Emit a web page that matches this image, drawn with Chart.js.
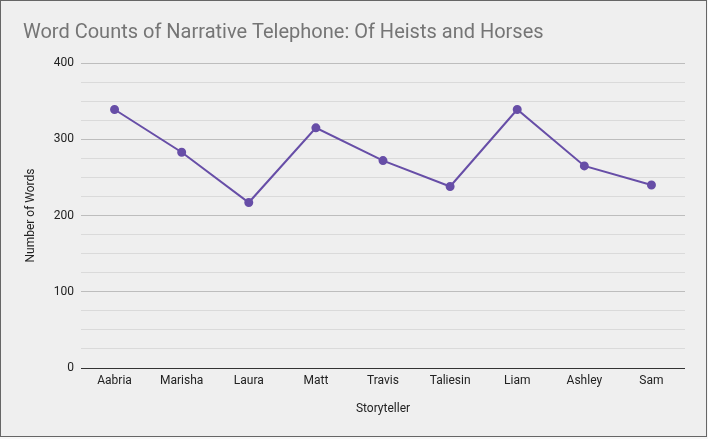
<!DOCTYPE html>
<html>
<head>
<meta charset="utf-8">
<script src="https://cdn.jsdelivr.net/npm/chart.js@4/dist/chart.umd.min.js"></script>
<style>
  html, body { margin: 0; padding: 0; background: #f7f7f7; }
  #wrap { width: 705px; height: 435px; border: 1px solid #666; background: #efefef; }
</style>
</head>
<body>
<div id="wrap"><canvas id="chart" width="705" height="435"></canvas></div>
<script>
// Storytellers and their word counts
const storytellers = ['Aabria', 'Marisha', 'Laura', 'Matt', 'Travis', 'Taliesin', 'Liam', 'Ashley', 'Sam'];
const wordCounts = [339, 283, 217, 315, 272, 238, 339, 265, 240];
const yMajorTicks = [0, 100, 200, 300, 400];

const purple = '#674ea7';
const fontFamily = 'Roboto, "Noto Sans", sans-serif';

const ctx = document.getElementById('chart').getContext('2d');
new Chart(ctx, {
    type: 'line',
    data: {
        labels: storytellers,
        datasets: [{
            label: 'Number of Words',
            data: wordCounts,
            borderColor: purple,
            backgroundColor: purple,
            borderWidth: 2,
            pointRadius: 3.5,
            pointHoverRadius: 3.5,
            tension: 0
        }]
    },
    options: {
        responsive: false,
        animation: false,
        layout: {
            padding: { left: 22, right: 21, top: 0, bottom: 0 }
        },
        plugins: {
            legend: { display: false },
            tooltip: { enabled: false },
            title: {
                display: true,
                text: 'Word Counts of Narrative Telephone: Of Heists and Horses',
                align: 'start',
                color: '#757575',
                font: { family: fontFamily, size: 20, weight: 'normal' },
                padding: { top: 20, bottom: 18 }
            }
        },
        scales: {
            x: {
                offset: true,
                grid: { display: false, drawTicks: false },
                border: { display: false },
                ticks: {
                    color: '#222',
                    padding: 6,
                    font: { family: fontFamily, size: 12 }
                },
                title: {
                    display: true,
                    text: 'Storyteller',
                    color: '#222',
                    font: { family: fontFamily, size: 12 },
                    padding: { top: 0, bottom: 20 }
                },
                afterFit: (scale) => { scale.height = 68; }
            },
            y: {
                min: 0,
                max: 400,
                border: { display: false },
                grid: {
                    drawTicks: false,
                    color: (c) => {
                        const v = c.tick.value;
                        if (v === 0) return '#333';
                        return yMajorTicks.includes(v) ? '#bdbdbd' : '#dadada';
                    }
                },
                ticks: {
                    stepSize: 25,
                    padding: 7,
                    color: '#222',
                    font: { family: fontFamily, size: 12 },
                    callback: (v) => yMajorTicks.includes(v) ? String(v) : ''
                },
                title: {
                    display: true,
                    text: 'Number of Words',
                    color: '#222',
                    font: { family: fontFamily, size: 12 },
                    padding: { top: 1, bottom: 0 }
                },
                afterFit: (scale) => { scale.width = 58; }
            }
        }
    }
});
</script>
</body>
</html>
